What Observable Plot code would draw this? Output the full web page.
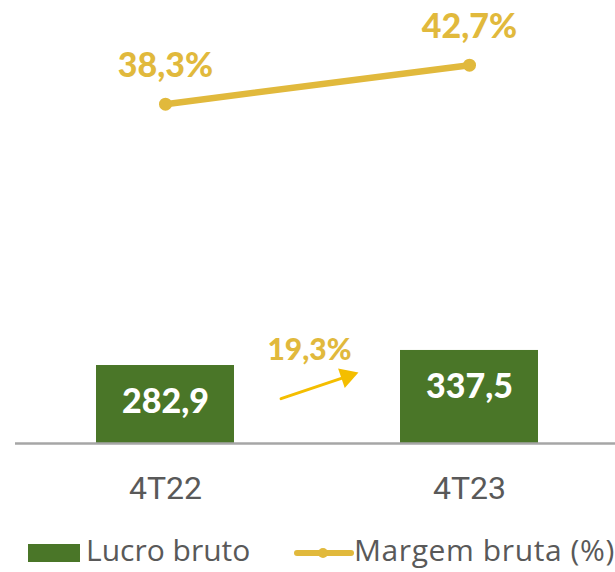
<!DOCTYPE html>
<html><head><meta charset="utf-8">
<script src="https://cdn.jsdelivr.net/npm/d3@7"></script>
<script src="https://cdn.jsdelivr.net/npm/@observablehq/plot@0.6"></script>
<style>
body{margin:0;background:#fff;}
#wrap{position:relative;width:615px;height:572px;overflow:hidden;}
#chart{position:absolute;left:0;top:0;}
.leg{position:absolute;font-family:"Open Sans",sans-serif;font-size:30px;color:#595959;line-height:30px;white-space:nowrap;}
</style></head><body><div id="wrap"><div id="chart"></div>
<div style="position:absolute;left:28px;top:544px;width:52px;height:18px;background:#4A7628"></div>
<div class="leg" style="left:86px;top:535px">Lucro bruto</div>
<svg style="position:absolute;left:294px;top:543px" width="60" height="20"><line x1="3" y1="10" x2="57" y2="10" stroke="#E1B93C" stroke-width="6" stroke-linecap="round"/><circle cx="29" cy="10" r="5" fill="#E1B93C"/></svg>
<div class="leg" style="left:354px;top:535px;letter-spacing:0.6px">Margem bruta (%)</div>
</div>
<script>
const categorias = ["4T22", "4T23"];
const lucroBruto = [282.9, 337.5];
const margemBruta = [38.3, 42.7];
const rotulosLucro = ["282,9", "337,5"];
const rotulosMargem = ["38,3%", "42,7%"];
const variacaoLucro = "19,3%";
const escalaMargem = 32.14; // eixo secundário da margem

const dados = categorias.map((c, i) => ({
  cat: c, lucro: lucroBruto[i], margem: margemBruta[i] * escalaMargem,
  rotLucro: rotulosLucro[i], rotMargem: rotulosMargem[i]
}));

const verde = "#4A7628", ouro = "#E1B93C", seta = "#F4BE00";
const anot = [{de: categorias[0], para: categorias[1], texto: variacaoLucro}];

const chart = Plot.plot({
  width: 615, height: 520,
  marginLeft: 15, marginRight: 0, marginTop: 0, marginBottom: 77,
  style: {color: "#595959", background: "white", fontFamily: "Roboto"},
  x: {domain: categorias, range: [13, 621], paddingInner: 0.546, paddingOuter: 0.273},
  y: {domain: [0, 1451], range: [443, 43], axis: null},
  marks: [
    Plot.barY(dados, {x: "cat", y: "lucro", fill: verde}),
    Plot.ruleY([0], {stroke: "#A6A6A6", strokeWidth: 2.5}),
    Plot.axisX({tickSize: 0, tickPadding: 33, fontSize: 32, fontFamily: "Roboto", label: null}),
    Plot.text(dados, {x: "cat", y: "lucro", text: "rotLucro", dy: 37, fill: "white", fontSize: 34, fontWeight: 900, fontFamily: "Lato"}),
    Plot.line(dados, {x: "cat", y: "margem", stroke: ouro, strokeWidth: 6.5}),
    Plot.dot(dados, {x: "cat", y: "margem", r: 6.5, fill: ouro}),
    Plot.text(dados, {x: "cat", y: "margem", text: "rotMargem", dy: -38, fill: ouro, fontSize: 34, fontWeight: 900, fontFamily: "Lato"}),
    Plot.arrow(anot, {x1: "de", x2: "para", y1: () => 21, y2: () => 393.5, insetStart: 122, insetEnd: 129, headLength: 0, stroke: seta, strokeWidth: 3, bend: 0}),
    Plot.dot(anot, {x: "para", y: () => 243.7, dx: -122.4, symbol: "triangle", r: 7.7, rotate: 71.3, fill: seta}),
    Plot.text(anot, {x: "de", y: () => 337, dx: 144, text: "texto", fill: ouro, fontSize: 30, fontWeight: 900, fontFamily: "Lato"})
  ]
});
document.getElementById("chart").appendChild(chart);
</script></body></html>
